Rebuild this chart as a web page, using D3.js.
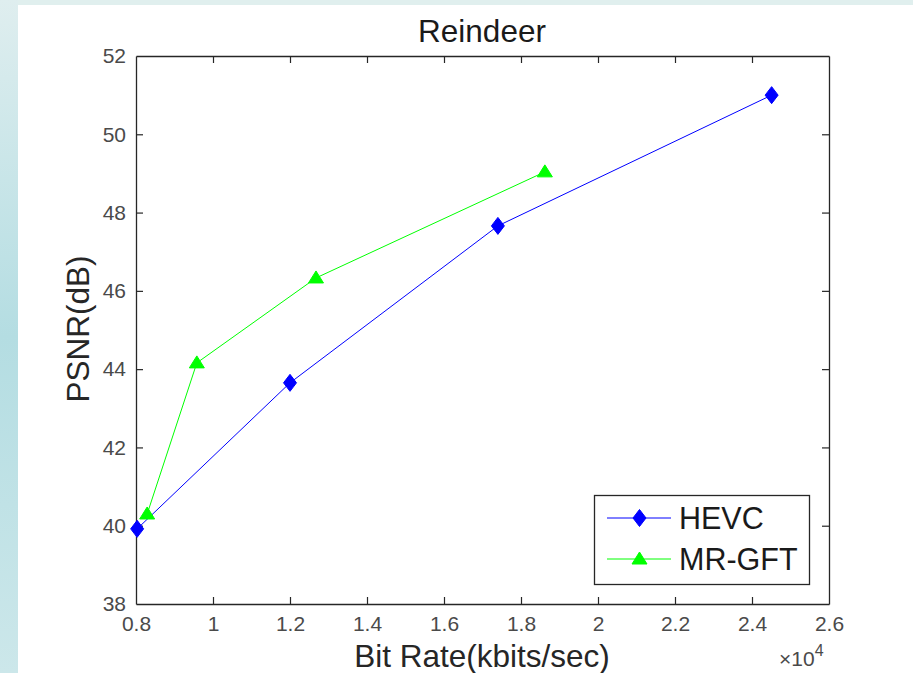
<!DOCTYPE html>
<html>
<head>
<meta charset="utf-8">
<script src="https://cdn.jsdelivr.net/npm/d3@7"></script>
<style>
  html, body { margin: 0; padding: 0; background: #ffffff; }
  svg { display: block; font-family: "Liberation Sans", Arial, Helvetica, sans-serif; }
</style>
</head>
<body>
<svg id="chart" width="913" height="673"></svg>
<script>
// Rate-distortion data (bit rate in kbits/sec, PSNR in dB)
const hevcRate = [8030, 12000, 17400, 24510];
const hevcPsnr = [39.92, 43.65, 47.66, 51.0];
const gftRate = [8290, 9580, 12675, 18620];
const gftPsnr = [40.3, 44.16, 46.33, 49.04];

const seriesNames = ["HEVC", "MR-GFT"];
const xTicks = [0.8, 1.0, 1.2, 1.4, 1.6, 1.8, 2.0, 2.2, 2.4, 2.6];
const yTicks = [38, 40, 42, 44, 46, 48, 50, 52];

const svg = d3.select("#chart");
const W = 913, H = 673;

// framing backdrop: teal band on the left and top
const defs = svg.append("defs");
const grad = defs.append("linearGradient").attr("id", "sideGrad")
  .attr("x1", 0).attr("y1", 0).attr("x2", 0).attr("y2", 1);
grad.append("stop").attr("offset", "0%").attr("stop-color", "#dfeeef");
grad.append("stop").attr("offset", "50%").attr("stop-color", "#b4dde2");
grad.append("stop").attr("offset", "100%").attr("stop-color", "#cce7ea");
svg.append("rect").attr("x", 0).attr("y", 0).attr("width", W).attr("height", H).attr("fill", "#ffffff");
svg.append("rect").attr("x", 0).attr("y", 0).attr("width", W).attr("height", 5).attr("fill", "#e0efee");
svg.append("rect").attr("x", 0).attr("y", 0).attr("width", 18).attr("height", H).attr("fill", "url(#sideGrad)");

const plot = { left: 136, right: 829, top: 56, bottom: 604 };

const x = d3.scaleLinear().domain([0.8, 2.6]).range([plot.left, plot.right]);
const y = d3.scaleLinear().domain([38, 52]).range([plot.bottom, plot.top]);

const axisColor = "#262626";
const tickText = "#4a4a4a";

// axes with inward ticks, mirrored on top/right
const fmtX = d => (Math.abs(d - 2) < 1e-9 ? "2" : (Math.abs(d - 1) < 1e-9 ? "1" : d3.format(".1f")(d)));
const gx = svg.append("g").attr("transform", `translate(0,${plot.bottom})`)
  .call(d3.axisBottom(x).tickValues(xTicks).tickSizeInner(-7).tickSizeOuter(0).tickPadding(12).tickFormat(fmtX));
const gxTop = svg.append("g").attr("transform", `translate(0,${plot.top})`)
  .call(d3.axisTop(x).tickValues(xTicks).tickSizeInner(-7).tickSizeOuter(0).tickFormat(""));
const gy = svg.append("g").attr("transform", `translate(${plot.left},0)`)
  .call(d3.axisLeft(y).tickValues(yTicks).tickSizeInner(-7).tickSizeOuter(0).tickPadding(10).tickFormat(d3.format("d")));
const gyR = svg.append("g").attr("transform", `translate(${plot.right},0)`)
  .call(d3.axisRight(y).tickValues(yTicks).tickSizeInner(-7).tickSizeOuter(0).tickFormat(""));

[gx, gxTop, gy, gyR].forEach(g => {
  g.select(".domain").attr("stroke", axisColor).attr("stroke-width", 1.3);
  g.selectAll(".tick line").attr("stroke", axisColor).attr("stroke-width", 1.2);
  g.selectAll(".tick text").attr("fill", tickText).attr("font-size", 21)
    .attr("font-family", "Liberation Sans, Arial, sans-serif");
});
// hide the end ticks that coincide with the box edges
gx.selectAll(".tick").filter(d => d === 0.8 || d === 2.6).select("line").remove();
gxTop.selectAll(".tick").filter(d => d === 0.8 || d === 2.6).select("line").remove();
gy.selectAll(".tick").filter(d => d === 38 || d === 52).select("line").remove();
gyR.selectAll(".tick").filter(d => d === 38 || d === 52).select("line").remove();

// exponent marker
const expo = svg.append("text").attr("x", 779).attr("y", 666).attr("fill", tickText)
  .attr("font-size", 21);
expo.append("tspan").text("\u00d710");
expo.append("tspan").attr("dy", -10).attr("font-size", 16).text("4");

// title and axis labels
svg.append("text").attr("x", 482).attr("y", 42).attr("text-anchor", "middle")
  .attr("font-size", 31.5).attr("fill", "#1a1a1a").text("Reindeer");
svg.append("text").attr("x", 482).attr("y", 667).attr("text-anchor", "middle")
  .attr("font-size", 31.5).attr("fill", "#262626").text("Bit Rate(kbits/sec)");
svg.append("text").attr("transform", `translate(89,329) rotate(-90)`).attr("text-anchor", "middle")
  .attr("font-size", 31.5).attr("fill", "#262626").text("PSNR(dB)");

// series
const hevc = hevcRate.map((r, i) => ({ r: r / 1e4, p: hevcPsnr[i] }));
const gft = gftRate.map((r, i) => ({ r: r / 1e4, p: gftPsnr[i] }));
const line = d3.line().x(d => x(d.r)).y(d => y(d.p));

const diamond = (cx, cy) => `M${cx},${cy - 8.5} L${cx + 6.5},${cy} L${cx},${cy + 8.5} L${cx - 6.5},${cy} Z`;
const triangle = (cx, cy) => `M${cx},${cy - 7} L${cx + 7.5},${cy + 5} L${cx - 7.5},${cy + 5} Z`;

svg.append("path").datum(hevc).attr("d", line).attr("fill", "none").attr("stroke", "#0000ff").attr("stroke-width", 1);
svg.append("path").datum(gft).attr("d", line).attr("fill", "none").attr("stroke", "#00ff00").attr("stroke-width", 1);

svg.append("g").selectAll("path").data(hevc).join("path")
  .attr("d", d => diamond(x(d.r), y(d.p))).attr("fill", "#0000ff").attr("stroke", "#0000ff");
svg.append("g").selectAll("path").data(gft).join("path")
  .attr("d", d => triangle(x(d.r), y(d.p))).attr("fill", "#00ff00").attr("stroke", "#00ff00");

// legend
const lg = svg.append("g");
lg.append("rect").attr("x", 594.5).attr("y", 495.5).attr("width", 215).attr("height", 89)
  .attr("fill", "#ffffff").attr("stroke", axisColor).attr("stroke-width", 1.3);
const rows = [
  { name: seriesNames[0], color: "#0000ff", shape: diamond, yy: 518, base: 529 },
  { name: seriesNames[1], color: "#00ff00", shape: triangle, yy: 559, base: 570 }
];
rows.forEach(rw => {
  lg.append("line").attr("x1", 607).attr("x2", 671).attr("y1", rw.yy).attr("y2", rw.yy)
    .attr("stroke", rw.color).attr("stroke-width", 1);
  lg.append("path").attr("d", rw.shape(639.5, rw.yy)).attr("fill", rw.color).attr("stroke", rw.color);
  lg.append("text").attr("x", 679).attr("y", rw.base).attr("font-size", 30.5).attr("fill", "#1a1a1a").text(rw.name);
});
</script>
</body>
</html>
